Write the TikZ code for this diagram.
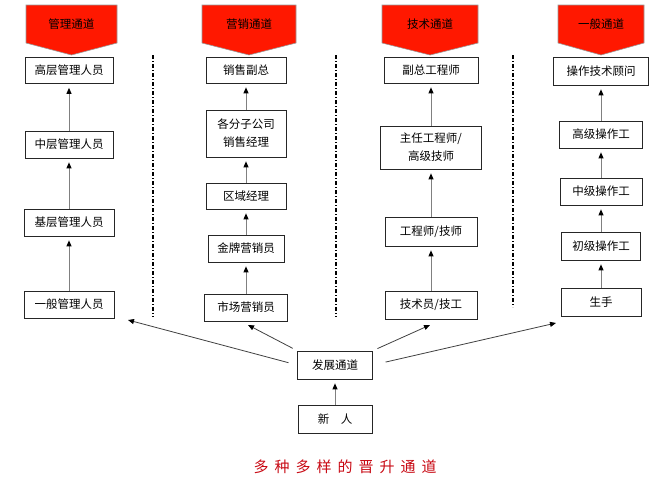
\documentclass[tikz,border=0pt]{standalone}
\usepackage{fontspec}
\newfontfamily\cjk{Noto Sans CJK SC}
\newfontfamily\cjktitle[LetterSpace=40]{Noto Sans CJK SC}
\usetikzlibrary{arrows.meta}
\definecolor{hdrred}{RGB}{255,24,0}
\definecolor{titlered}{RGB}{200,10,20}

\begin{document}
\begin{tikzpicture}[
    x=1pt, y=-1pt,
    post/.style={
        draw=black!85, fill=white, line width=0.7pt,
        font=\cjk\fontsize{11.5}{18}\selectfont,
        align=center, inner sep=0pt, minimum height=26pt
    },
    hdr/.style={draw=gray!80, fill=hdrred, line width=0.6pt},
    hdrtext/.style={font=\cjk\fontsize{11.5}{14}\selectfont},
    up/.style={draw=gray, line width=0.9pt,
        -{Triangle[length=6pt, width=5pt, color=black]}, shorten >=4pt},
    fan/.style={draw=black!75, line width=0.8pt,
        -{Triangle[length=6pt, width=5pt, color=black]}},
    sep/.style={line width=1.1pt, dash pattern=on 4pt off 2pt on 1pt off 2pt}
]
\useasboundingbox (0,0) rectangle (670,485);

% Channel headers
\draw[hdr] (26,5) -- (117,5) -- (117,43) -- (71.5,55) -- (26,43) -- cycle;
\node[hdrtext] (h1) at (71.5,24) {管理通道};
\draw[hdr] (202,5) -- (296,5) -- (296,43) -- (249,55) -- (202,43) -- cycle;
\node[hdrtext] (h2) at (249,24) {营销通道};
\draw[hdr] (382,5) -- (478,5) -- (478,43) -- (430,55) -- (382,43) -- cycle;
\node[hdrtext] (h3) at (430,24) {技术通道};
\draw[hdr] (558,5) -- (644,5) -- (644,43) -- (601,55) -- (558,43) -- cycle;
\node[hdrtext] (h4) at (601,24) {一般通道};

% Separators
\draw[sep] (153,55) -- (153,317);
\draw[sep] (336,55) -- (336,317);
\draw[sep] (513,55) -- (513,307);

% Management channel
\node[post, minimum width=88pt] (gl1) at (69,70.5)  {高层管理人员};
\node[post, minimum width=88pt, minimum height=27pt] (gl2) at (69,144.5) {中层管理人员};
\node[post, minimum width=90pt, minimum height=27pt] (gl3) at (69,222.5) {基层管理人员};
\node[post, minimum width=90pt, minimum height=27pt] (gl4) at (69,304.5) {一般管理人员};

% Marketing channel
\node[post, minimum width=80pt] (yx1) at (246,70)  {销售副总};
\node[post, minimum width=80pt, minimum height=47pt] (yx2) at (246,133.5) {各分子公司\\销售经理};
\node[post, minimum width=80pt] (yx3) at (246,196)  {区域经理};
\node[post, minimum width=76pt, minimum height=27pt] (yx4) at (246,248.5) {金牌营销员};
\node[post, minimum width=83pt, minimum height=27pt] (yx5) at (246,307.5) {市场营销员};

% Technical channel
\node[post, minimum width=94pt] (js1) at (431,70)  {副总工程师};
\node[post, minimum width=101pt, minimum height=43pt] (js2) at (431,147.5) {主任工程师/\\高级技师};
\node[post, minimum width=92pt, minimum height=29pt] (js3) at (431,231.5) {工程师/技师};
\node[post, minimum width=92pt, minimum height=28pt] (js4) at (431,305)  {技术员/技工};

% General channel
\node[post, minimum width=95pt, minimum height=28pt] (yb1) at (601,71)  {操作技术顾问};
\node[post, minimum width=83pt, minimum height=27pt] (yb2) at (601,134.5) {高级操作工};
\node[post, minimum width=82pt, minimum height=27pt] (yb3) at (601,191.5) {中级操作工};
\node[post, minimum width=79pt, minimum height=28pt] (yb4) at (601,246)  {初级操作工};
\node[post, minimum width=80pt, minimum height=28pt] (yb5) at (601,302)  {生手};

% Start
\node[post, minimum width=75pt, minimum height=28pt] (dev) at (335,365) {发展通道};
\node[post, minimum width=74pt, minimum height=28pt] (xin) at (335,419) {新\quad 人};

% Promotion arrows
\draw[up] (gl2.north) -- (gl1.south);
\draw[up] (gl3.north) -- (gl2.south);
\draw[up] (gl4.north) -- (gl3.south);
\draw[up] (yx2.north) -- (yx1.south);
\draw[up] (yx3.north) -- (yx2.south);
\draw[up] (yx4.north) -- (yx3.south);
\draw[up] (yx5.north) -- (yx4.south);
\draw[up] (js2.north) -- (js1.south);
\draw[up] (js3.north) -- (js2.south);
\draw[up] (js4.north) -- (js3.south);
\draw[up] (yb2.north) -- (yb1.south);
\draw[up] (yb3.north) -- (yb2.south);
\draw[up] (yb4.north) -- (yb3.south);
\draw[up] (yb5.north) -- (yb4.south);
\draw[up] (xin.north) -- (dev.south);

% Fan out from the start box
\coordinate (tgl) at (128,320);
\coordinate (tyx) at (248,325);
\coordinate (tjs) at (430,325);
\coordinate (tyb) at (556,323);
\draw[fan, shorten <=9pt] (dev.west) -- (tgl);
\draw[fan, shorten <=5pt] (dev.north west) -- (tyx);
\draw[fan, shorten <=5pt] (dev.north east) -- (tjs);
\draw[fan, shorten <=13pt] (dev.east) -- (tyb);

% Caption
\node[font=\cjktitle\fontsize{15}{18}\selectfont, text=titlered] (cap) at (345,467) {多种多样的晋升通道};

\end{tikzpicture}
\end{document}
